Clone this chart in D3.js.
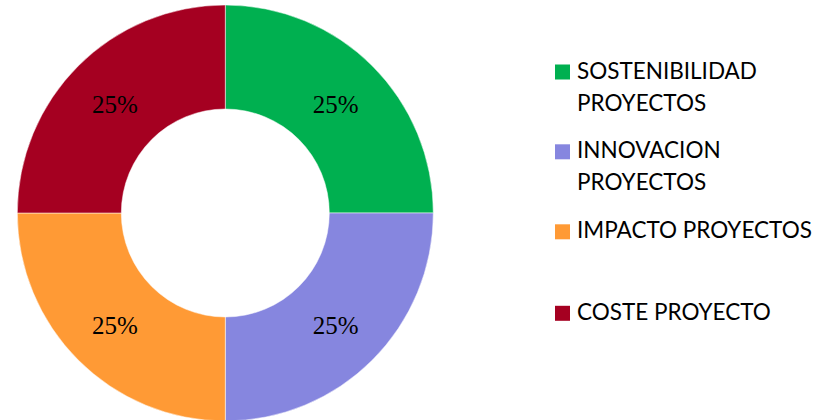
<!DOCTYPE html>
<html>
<head>
<meta charset="utf-8">
<script src="https://cdn.jsdelivr.net/npm/d3@7"></script>
<style>
  html, body { margin: 0; padding: 0; background: #fff; }
  svg { display: block; }
</style>
</head>
<body>
<svg id="chart" width="825" height="420"></svg>
<script>
// Share of each project criterion
const categories = ["SOSTENIBILIDAD PROYECTOS", "INNOVACION PROYECTOS", "IMPACTO PROYECTOS", "COSTE PROYECTO"];
const values = [25, 25, 25, 25];
const legendLines = [["SOSTENIBILIDAD", "PROYECTOS"], ["INNOVACION", "PROYECTOS"], ["IMPACTO PROYECTOS"], ["COSTE PROYECTO"]];
const colors = ["#00B050", "#8686DF", "#FF9A35", "#A50021"];

const svg = d3.select("#chart");
const cx = 225.3, cy = 213, outerR = 208, innerR = 104;

const color = d3.scaleOrdinal().domain(categories).range(colors);
const total = d3.sum(values);
const pie = d3.pie().sort(null).value(d => d.value);
const arcs = pie(categories.map((c, i) => ({ name: c, value: values[i] })));
const arc = d3.arc().innerRadius(innerR).outerRadius(outerR);

const g = svg.append("g").attr("transform", `translate(${cx},${cy})`);

g.selectAll("path.slice")
  .data(arcs)
  .join("path")
  .attr("class", "slice")
  .attr("d", arc)
  .attr("fill", d => color(d.data.name))
  .attr("stroke", "#fff")
  .attr("stroke-width", 0.5);

const pct = d3.format(".0%");
g.selectAll("text.pct")
  .data(arcs)
  .join("text")
  .attr("class", "pct")
  .attr("x", d => arc.centroid(d)[0])
  .attr("y", d => arc.centroid(d)[1])
  .attr("dy", "0.42em")
  .attr("text-anchor", "middle")
  .attr("font-family", "'Liberation Serif', 'Times New Roman', serif")
  .attr("font-size", 25)
  .attr("fill", "#000")
  .text(d => pct(d.data.value / total));

// Legend
const legendTops = [64.5, 144.3, 224.3, 305.8];
const legend = svg.append("g");
const items = legend.selectAll("g.item")
  .data(categories)
  .join("g")
  .attr("class", "item")
  .attr("transform", (d, i) => `translate(555,${legendTops[i]})`);

items.append("rect")
  .attr("width", 15)
  .attr("height", 15)
  .attr("fill", d => color(d));

items.append("text")
  .attr("x", 22)
  .attr("y", 14)
  .attr("font-family", "Lato, 'Open Sans', sans-serif")
  .attr("font-size", 22.5)
  .attr("fill", "#000")
  .each(function(d, i) {
    const t = d3.select(this);
    legendLines[i].forEach((line, j) => {
      t.append("tspan")
        .attr("x", 22)
        .attr("dy", j === 0 ? 0 : 32)
        .text(line);
    });
  });
</script>
</body>
</html>
